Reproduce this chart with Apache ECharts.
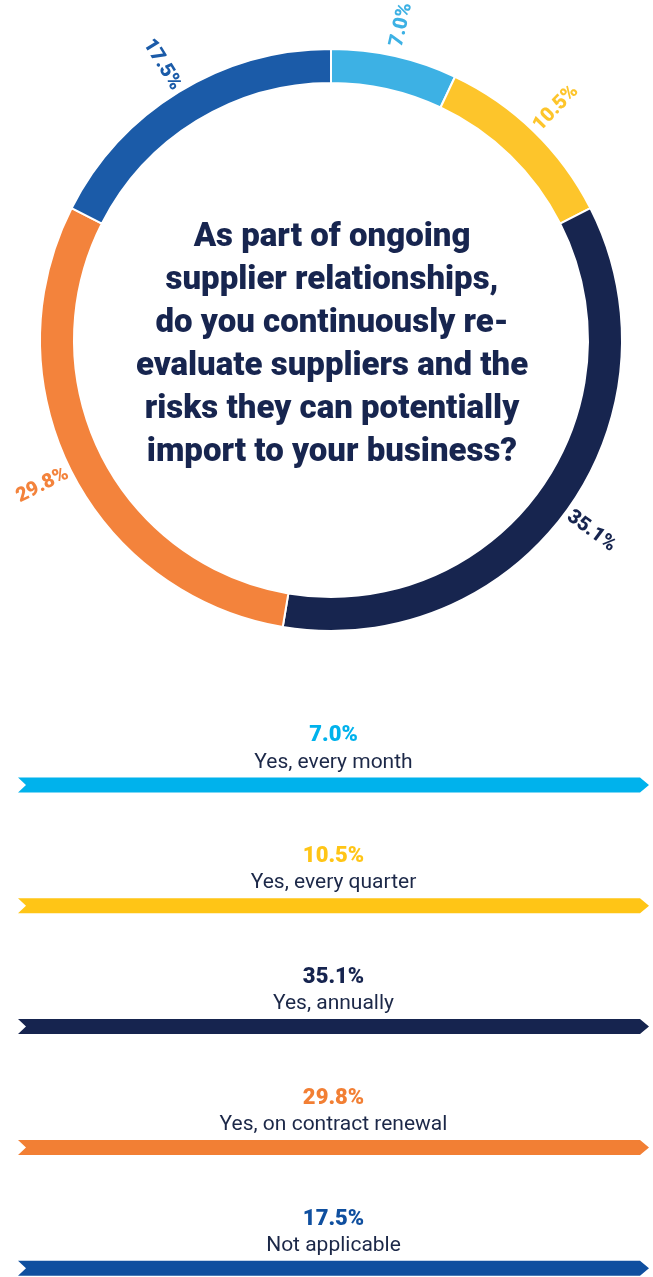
<!DOCTYPE html>
<html>
<head>
<meta charset="utf-8">
<script src="https://cdn.jsdelivr.net/npm/echarts@6/dist/echarts.min.js"></script>
<style>
html, body { margin: 0; padding: 0; background: #fff; }
#main { width: 653px; height: 1277px; }
</style>
</head>
<body>
<div id="main"></div>
<script>
// answers, in the order they go round the ring (clockwise from 12 o'clock)
var categories = ['Yes, every month', 'Yes, every quarter', 'Yes, annually', 'Yes, on contract renewal', 'Not applicable'];
var shares = [7.0, 10.5, 35.1, 29.8, 17.5];
var ringColors = ['#3db1e4', '#fdc52b', '#17254f', '#f3833c', '#1b5ba8'];
var barColors = ['#00b2ec', '#ffc516', '#16244f', '#f27f34', '#0f4f9f'];
var question = 'As part of ongoing\nsupplier relationships,\ndo you continuously re-\nevaluate suppliers and the\nrisks they can potentially\nimport to your business?';

var navy = '#17254f';
var pct = function (v) { return v.toFixed(1) + '%'; };

var chart = echarts.init(document.getElementById('main'));

var ringData = categories.map(function (c, i) {
  return { name: c, value: shares[i], itemStyle: { color: ringColors[i] } };
});
// same values again, invisible outer ring that only carries the labels
var labelData = categories.map(function (c, i) {
  return { name: c, value: shares[i], label: { color: ringColors[i] } };
});

var option = {
  animation: false,
  title: {
    text: question,
    left: 332,
    top: 216,
    padding: 0,
    textAlign: 'center',
    textStyle: {
      fontFamily: 'Roboto',
      fontWeight: 900,
      fontSize: 33,
      lineHeight: 43,
      color: navy
    }
  },
  grid: { left: 18, right: 4, top: 670, height: 604 },
  xAxis: { type: 'value', min: 0, max: 1, show: false },
  yAxis: { type: 'category', data: categories, inverse: true, show: false },
  series: [
    {
      type: 'pie',
      center: [331, 340],
      radius: [257, 291],
      startAngle: 90,
      silent: true,
      itemStyle: { borderColor: '#fff', borderWidth: 2 },
      label: { show: false },
      labelLine: { show: false },
      data: ringData
    },
    {
      type: 'pie',
      center: [331, 340],
      radius: [294, 346],
      startAngle: 90,
      silent: true,
      itemStyle: { color: 'rgba(0,0,0,0)' },
      label: {
        show: true,
        position: 'inside',
        rotate: 'radial',
        fontFamily: 'Roboto',
        fontWeight: 900,
        fontSize: 20,
        formatter: function (p) { return pct(p.value); }
      },
      labelLine: { show: false },
      data: labelData
    },
    {
      type: 'custom',
      silent: true,
      data: categories.map(function (c, i) { return [0, i]; }),
      renderItem: function (params, api) {
        var i = params.dataIndex;
        var a = api.coord([0, i]);
        var b = api.coord([1, i]);
        var band = api.size([0, 1])[1];
        var top = a[1] - band / 2;
        var cy = top + band * 0.952;
        var h = 15, tip = 9, notch = 8;
        return {
          type: 'group',
          children: [
            {
              type: 'polygon',
              shape: {
                points: [
                  [a[0], cy - h / 2], [b[0] - tip, cy - h / 2], [b[0], cy],
                  [b[0] - tip, cy + h / 2], [a[0], cy + h / 2], [a[0] + notch, cy]
                ]
              },
              style: { fill: barColors[i] }
            },
            {
              type: 'text',
              style: {
                text: pct(shares[i]),
                x: (a[0] + b[0]) / 2,
                y: top + band * 0.545,
                align: 'center',
                verticalAlign: 'middle',
                font: '900 22px Roboto',
                fill: barColors[i]
              }
            },
            {
              type: 'text',
              style: {
                text: categories[i],
                x: (a[0] + b[0]) / 2,
                y: top + band * 0.765,
                align: 'center',
                verticalAlign: 'middle',
                font: '21px Roboto',
                fill: '#1c2848'
              }
            }
          ]
        };
      }
    }
  ]
};

chart.setOption(option);
</script>
</body>
</html>
